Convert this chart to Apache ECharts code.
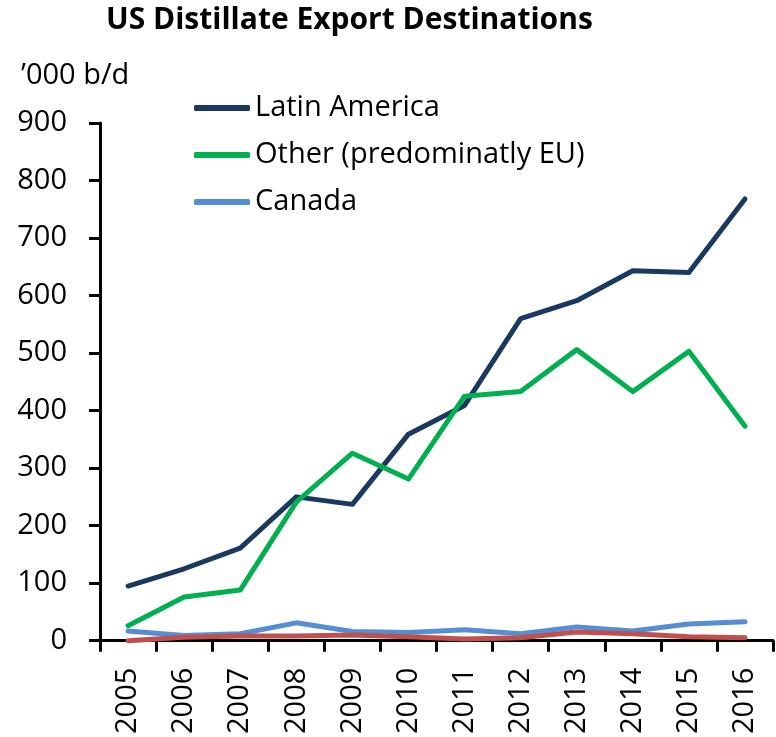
<!DOCTYPE html>
<html>
<head>
<meta charset="utf-8">
<script src="https://cdn.jsdelivr.net/npm/echarts@6/dist/echarts.min.js"></script>
<style>
  html, body { margin: 0; padding: 0; background: #fff; }
  #chart { width: 776px; height: 737px; }
</style>
</head>
<body>
<div id="chart"></div>
<script>
  // categories and series ('000 b/d)
  var years = ['2005', '2006', '2007', '2008', '2009', '2010', '2011', '2012', '2013', '2014', '2015', '2016'];
  var latinAmerica = [95, 125, 161, 250, 237, 359, 409, 560, 591, 643, 640, 768];
  var otherEU = [26, 76, 88, 241, 326, 281, 425, 433, 506, 433, 503, 373];
  var canada = [17, 9, 12, 31, 16, 14, 19, 12, 24, 17, 29, 33];
  var unlabelled = [0, 6, 8, 8, 10, 7, 3, 5, 15, 12, 7, 5];
  var legendNames = ['Latin America', 'Other (predominatly EU)', 'Canada'];

  var font = '"Open Sans", "Noto Sans", sans-serif';

  function line(name, data, color) {
    return {
      name: name,
      type: 'line',
      data: data,
      symbol: 'none',
      color: color,
      lineStyle: { width: 5, color: color, cap: 'round', join: 'round' }
    };
  }

  var chart = echarts.init(document.getElementById('chart'));
  chart.setOption({
    animation: false,
    title: [{
      text: 'US Distillate Export Destinations',
      left: 101,
      top: 0,
      textStyle: { fontFamily: font, fontWeight: 'bold', fontSize: 30, color: '#000' }
    }, {
      text: '\u2019000 b/d',
      left: 16,
      top: 56,
      textStyle: { fontFamily: font, fontWeight: 'normal', fontSize: 29, color: '#000' }
    }],
    legend: {
      data: legendNames,
      orient: 'vertical',
      left: 189,
      top: 88,
      icon: 'roundRect',
      itemWidth: 56,
      itemHeight: 6,
      itemGap: 17,
      textStyle: { fontFamily: font, fontSize: 29, color: '#000', lineHeight: 30 }
    },
    grid: { left: 100, right: 3, top: 123, bottom: 93, containLabel: false },
    xAxis: {
      type: 'category',
      data: years,
      boundaryGap: true,
      axisLine: { lineStyle: { color: '#000', width: 3 } },
      axisTick: { show: true, interval: 0, length: 11, lineStyle: { color: '#000', width: 3 } },
      axisLabel: { rotate: 90, margin: 27, fontFamily: font, fontSize: 29, color: '#000' },
      splitLine: { show: false }
    },
    yAxis: {
      type: 'value',
      min: 0,
      max: 900,
      interval: 100,
      axisLine: { show: true, lineStyle: { color: '#000', width: 3 } },
      axisTick: { show: true, length: 11, lineStyle: { color: '#000', width: 3 } },
      axisLabel: { margin: 33, fontFamily: font, fontSize: 29, color: '#000' },
      splitLine: { show: false }
    },
    series: [
      line('Latin America', latinAmerica, '#1B3861'),
      line('Other (predominatly EU)', otherEU, '#00B050'),
      line('Canada', canada, '#558ED5'),
      line('Other destinations', unlabelled, '#C0504D')
    ]
  });
</script>
</body>
</html>
